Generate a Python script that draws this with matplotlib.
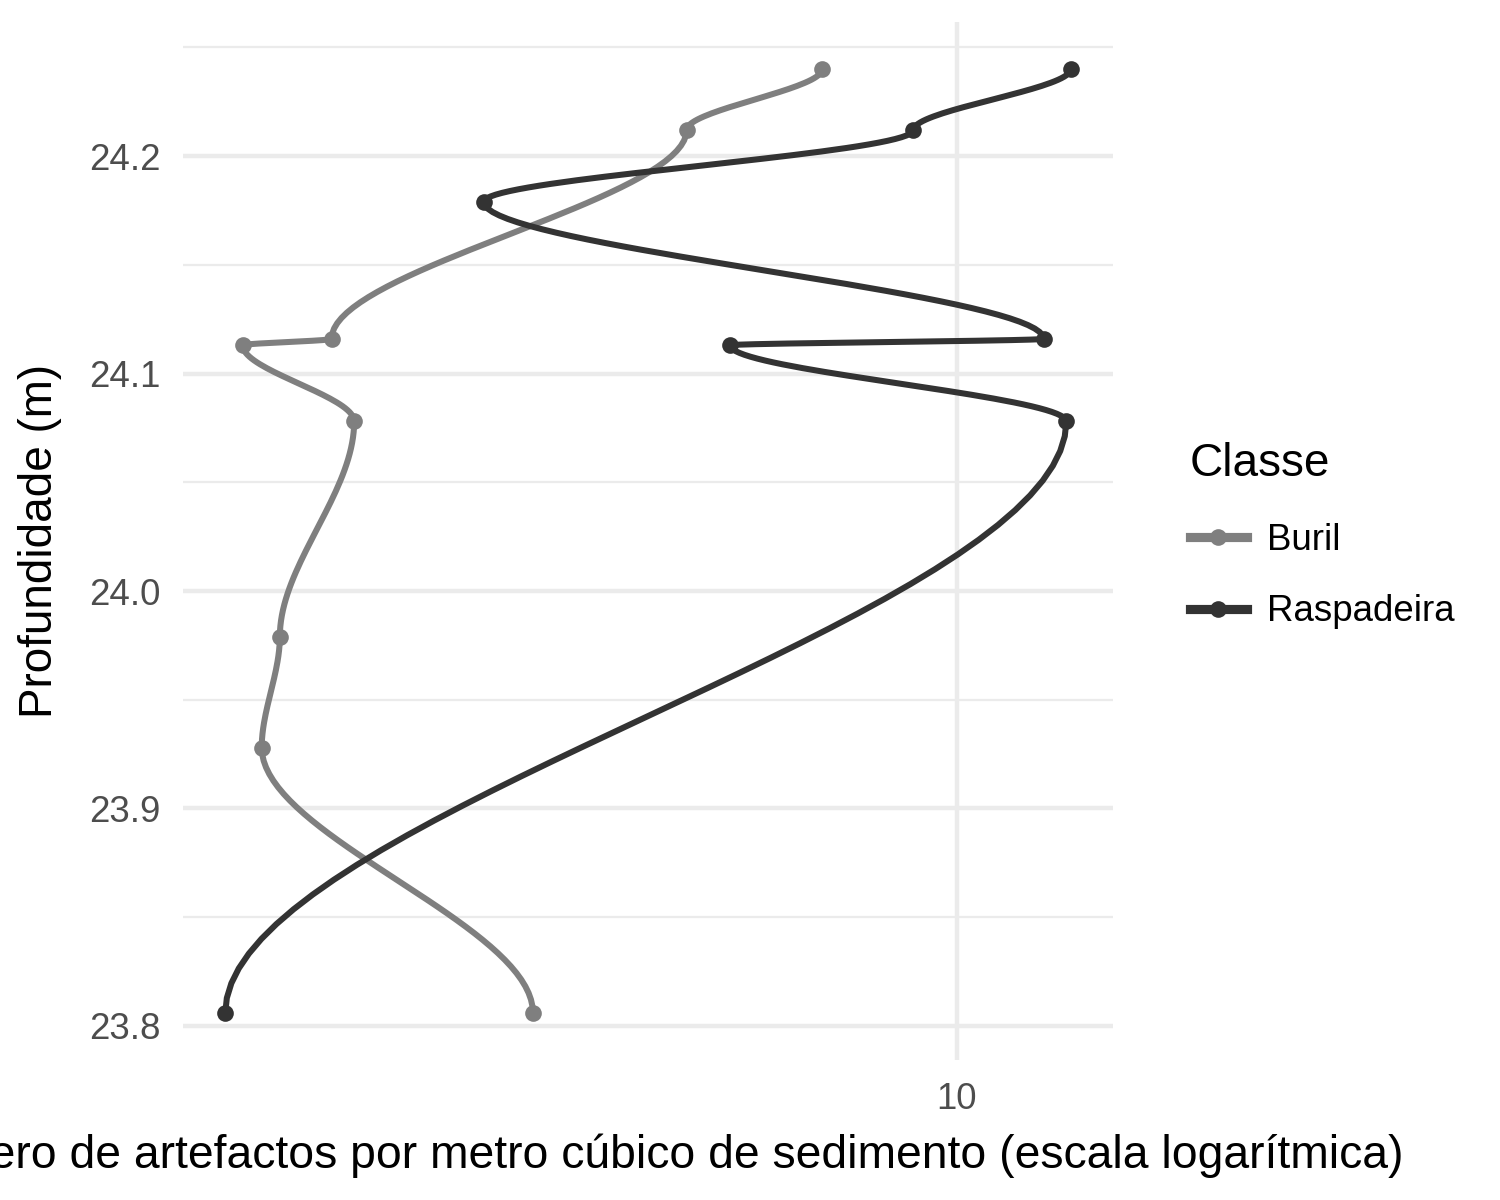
import numpy as np
import matplotlib
matplotlib.use("Agg")
import matplotlib.pyplot as plt
from matplotlib.ticker import FixedLocator, NullLocator, FixedFormatter
from matplotlib.lines import Line2D

plt.rcParams['font.family'] = ['Liberation Sans', 'DejaVu Sans']

# ---------------- data ----------------
classes = ["Buril", "Raspadeira"]
buril_depth = [24.240, 24.212, 24.116, 24.113, 24.078, 23.979, 23.928, 23.806]
buril_density = [7.08, 5.00, 2.01, 1.60, 2.13, 1.76, 1.68, 3.37]
rasp_depth = [24.240, 24.212, 24.179, 24.116, 24.113, 24.078, 23.806]
rasp_density = [13.4, 8.95, 2.97, 12.5, 5.59, 13.25, 1.53]
y_ticks = [23.8, 23.9, 24.0, 24.1, 24.2]
y_tick_labels = ["23.8", "23.9", "24.0", "24.1", "24.2"]
x_ticks = [10]
x_tick_labels = ["10"]
colors = {"Buril": "#7f7f7f", "Raspadeira": "#333333"}
series = {"Buril": (buril_density, buril_depth),
          "Raspadeira": (rasp_density, rasp_depth)}


def smooth_path(x, y, n=40):
    """Smooth path through the points, x as a function of depth (log space)."""
    lx = np.log10(np.asarray(x, float))
    y = np.asarray(y, float)
    xs, ys = [lx[0]], [y[0]]
    t = np.linspace(0, 1, n + 1)[1:]
    s = 3 * t ** 2 - 2 * t ** 3
    for i in range(len(y) - 1):
        xs.extend(lx[i] + (lx[i + 1] - lx[i]) * s)
        ys.extend(y[i] + (y[i + 1] - y[i]) * t)
    return 10 ** np.array(xs), np.array(ys)


W, H = 1500, 1200
fig = plt.figure(figsize=(5, 4), dpi=300)
ax = fig.add_axes([183 / W, 1 - 1060 / H, 930 / W, 1038 / H])
ax.set_xscale('log')

for c in classes:
    xd, yd = series[c]
    sx, sy = smooth_path(xd, yd)
    ax.plot(sx, sy, color=colors[c], lw=1.45, solid_capstyle='butt',
            solid_joinstyle='round', zorder=3)
    ax.plot(xd, yd, 'o', color=colors[c], ms=4.0, mew=0, zorder=4)

ax.margins(x=0.05, y=0.05)

# ticks / grid
ax.xaxis.set_major_locator(FixedLocator(x_ticks))
ax.xaxis.set_major_formatter(FixedFormatter(x_tick_labels))
ax.xaxis.set_minor_locator(NullLocator())
ax.yaxis.set_major_locator(FixedLocator(y_ticks))
ax.yaxis.set_major_formatter(FixedFormatter(y_tick_labels))
minor_y = [v + 0.05 for v in y_ticks] + [y_ticks[0] - 0.05]
ax.yaxis.set_minor_locator(FixedLocator(minor_y))

ax.grid(which='major', color='#EBEBEB', lw=1.07, zorder=0)
ax.grid(which='minor', axis='y', color='#EBEBEB', lw=0.53, zorder=0)
ax.set_axisbelow(True)
for sp in ax.spines.values():
    sp.set_visible(False)
ax.tick_params(which='both', length=0, labelsize=8.8, labelcolor='#4D4D4D')
ax.tick_params(axis='x', pad=5.3)
ax.tick_params(axis='y', pad=5.3)

ax.set_xlabel("Número de artefactos por metro cúbico de sedimento (escala logarítmica)",
              fontsize=11.1, color='black', labelpad=4)
ax.set_ylabel("Profundidade (m)", fontsize=11, color='black', labelpad=6.5)

# legend
handles = [Line2D([0], [0], color=colors[c], lw=2.2, marker='o', ms=4.0, mew=0)
           for c in classes]
leg = fig.legend(handles, classes, title="Classe", loc='upper left',
                 bbox_to_anchor=(1190 / W, 1 - 442 / H), frameon=False,
                 fontsize=8.8, title_fontsize=11, handlelength=1.55,
                 handletextpad=0.55, labelspacing=1.0, borderpad=0,
                 borderaxespad=0, alignment='left')

fig.savefig("out.png", dpi=300)
